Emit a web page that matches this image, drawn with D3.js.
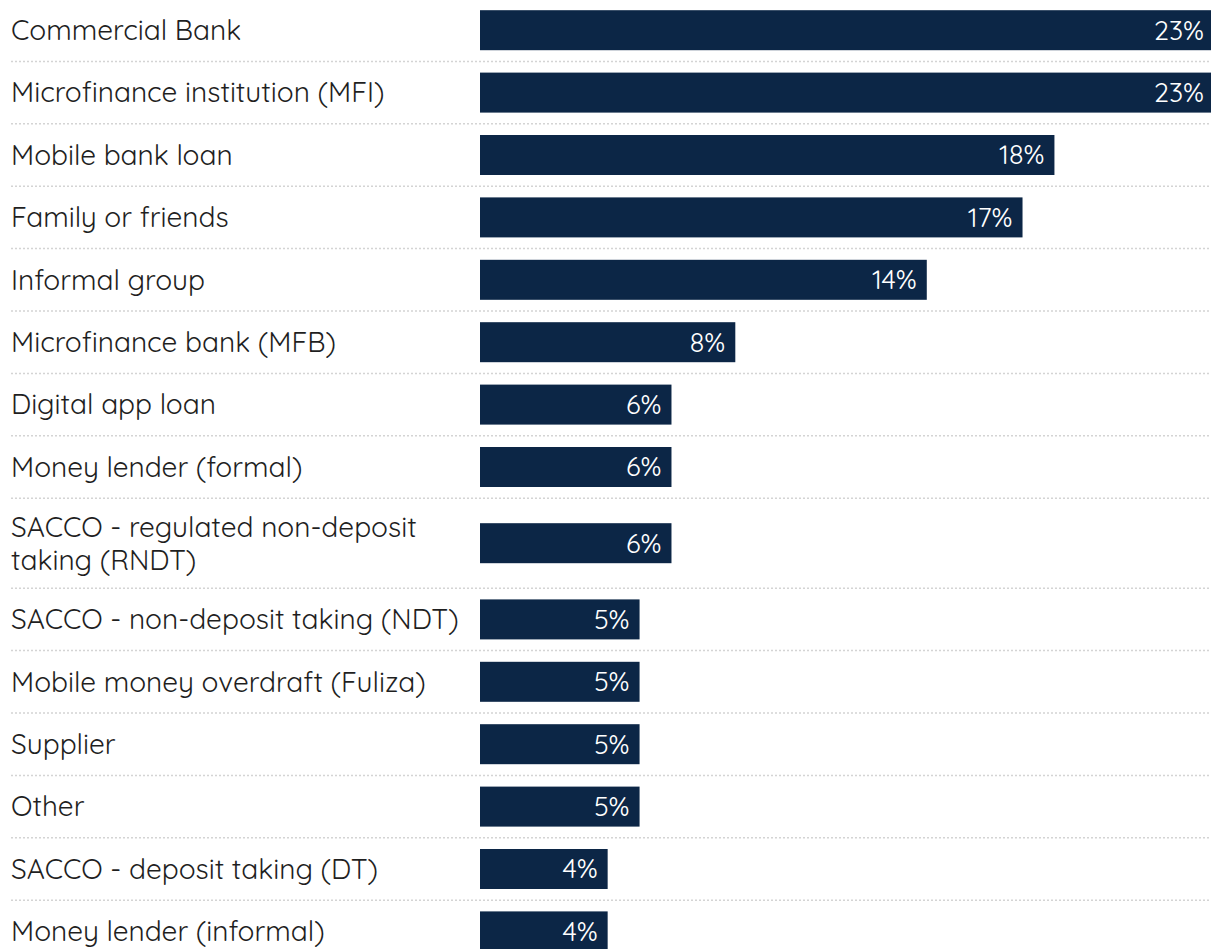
<!DOCTYPE html>
<html>
<head>
<meta charset="utf-8">
<script src="https://cdn.jsdelivr.net/npm/d3@7"></script>
<style>
  html, body { margin: 0; padding: 0; background: #fff; overflow: hidden; }
  svg { display: block; }
</style>
</head>
<body>
<svg id="chart" width="1211" height="949"></svg>
<script>
// Loan sources, share of respondents (%)
const categories = [
  "Commercial Bank",
  "Microfinance institution (MFI)",
  "Mobile bank loan",
  "Family or friends",
  "Informal group",
  "Microfinance bank (MFB)",
  "Digital app loan",
  "Money lender (formal)",
  "SACCO - regulated non-deposit taking (RNDT)",
  "SACCO - non-deposit taking (NDT)",
  "Mobile money overdraft (Fuliza)",
  "Supplier",
  "Other",
  "SACCO - deposit taking (DT)",
  "Money lender (informal)"
];
const values = [23, 23, 18, 17, 14, 8, 6, 6, 6, 5, 5, 5, 5, 4, 4];
// Line breaks for labels that wrap
const labelLines = {
  "SACCO - regulated non-deposit taking (RNDT)": ["SACCO - regulated non-deposit", "taking (RNDT)"]
};

const width = 1211;
const startY = -1;
const rowH = 62.4;
const lineH = 33;
const barH = 40;
const labelX = 11;
const barX0 = 480;
const fontFamily = "'Quicksand', 'Open Sans', 'Noto Sans', sans-serif";

const rows = categories.map((c, i) => ({
  name: c,
  value: values[i],
  lines: labelLines[c] || [c]
}));
// Row heights grow with the number of label lines
rows.forEach(r => { r.h = rowH + (r.lines.length - 1) * 27.6; });
let acc = startY;
rows.forEach(r => { r.y0 = acc; acc += r.h; r.y1 = acc; r.cy = (r.y0 + r.y1) / 2; });

const x = d3.scaleLinear().domain([0, 23]).range([barX0, 1214]);

const svg = d3.select("#chart");

// Dotted separators under each row
svg.append("g")
  .selectAll("line")
  .data(rows)
  .join("line")
  .attr("x1", 11).attr("x2", width)
  .attr("y1", d => d.y1).attr("y2", d => d.y1)
  .attr("stroke", "#d4d4d4")
  .attr("stroke-width", 1.5)
  .attr("stroke-dasharray", "2,2");

// Category labels
const lab = svg.append("g")
  .selectAll("text")
  .data(rows)
  .join("text")
  .attr("x", labelX)
  .attr("y", d => d.cy - (d.lines.length - 1) * lineH / 2)
  .attr("fill", "#1f1f1f")
  .style("font-family", fontFamily)
  .style("font-size", "28px")
  .style("font-weight", 400);
lab.selectAll("tspan")
  .data(d => d.lines.map((t, i) => ({ t, i })))
  .join("tspan")
  .attr("x", labelX)
  .attr("dy", d => d.i === 0 ? "0.35em" : lineH)
  .text(d => d.t);

// Bars
svg.append("g")
  .selectAll("rect")
  .data(rows)
  .join("rect")
  .attr("x", x(0))
  .attr("y", d => d.cy - barH / 2)
  .attr("width", d => x(d.value) - x(0))
  .attr("height", barH)
  .attr("fill", "#0c2646");

// Value labels inside bar ends
svg.append("g")
  .selectAll("text")
  .data(rows)
  .join("text")
  .attr("x", d => x(d.value) - 10)
  .attr("y", d => d.cy)
  .attr("dy", "0.35em")
  .attr("text-anchor", "end")
  .attr("fill", "#ffffff")
  .style("font-family", fontFamily)
  .style("font-size", "27px")
  .text(d => d.value + "%");
</script>
</body>
</html>
